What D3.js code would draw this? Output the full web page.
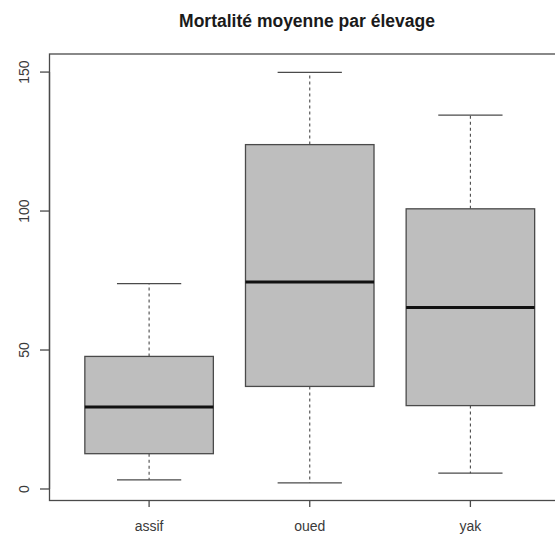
<!DOCTYPE html>
<html><head><meta charset="utf-8">
<script src="https://cdn.jsdelivr.net/npm/d3@7"></script>
<style>body{margin:0;background:#fff}svg{display:block}</style>
</head><body>
<script>
const categories = ["assif", "oued", "yak"];
const lowerWhisker = [3.3, 2.2, 5.7];
const q1 = [12.7, 36.9, 30.0];
const median = [29.5, 74.5, 65.3];
const q3 = [47.7, 123.9, 100.8];
const upperWhisker = [73.9, 149.9, 134.5];
const yTicks = [0, 50, 100, 150];
const title = "Mortalité moyenne par élevage";

const W = 555, H = 535;
const svg = d3.select("body").append("svg").attr("width", W).attr("height", H);

const x = d3.scaleLinear().domain([0.38, 3.62]).range([49.5, 570]);
const y = d3.scaleLinear().domain([-4.14, 156.5]).range([500.5, 54]);

const data = categories.map((c, i) => ({c, i: i + 1, lo: lowerWhisker[i], q1: q1[i], med: median[i], q3: q3[i], hi: upperWhisker[i]}));

const lineCol = "#4a4a4a";
const font = "Liberation Sans, Arial, sans-serif";
const g = svg.append("g");

data.forEach(d => {
  const cx = x(d.i), bw = x(d.i + 0.4) - x(d.i), cw = bw / 2;
  g.append("line").attr("x1", cx).attr("x2", cx).attr("y1", y(d.q3)).attr("y2", y(d.hi))
    .attr("stroke", lineCol).attr("stroke-width", 1.1).attr("stroke-dasharray", "3,3");
  g.append("line").attr("x1", cx).attr("x2", cx).attr("y1", y(d.q1)).attr("y2", y(d.lo))
    .attr("stroke", lineCol).attr("stroke-width", 1.1).attr("stroke-dasharray", "3,3");
  [d.hi, d.lo].forEach(v => g.append("line").attr("x1", cx - cw).attr("x2", cx + cw)
    .attr("y1", y(v)).attr("y2", y(v)).attr("stroke", lineCol).attr("stroke-width", 1.3));
  g.append("rect").attr("x", cx - bw).attr("width", 2 * bw).attr("y", y(d.q3)).attr("height", y(d.q1) - y(d.q3))
    .attr("fill", "#bebebe").attr("stroke", lineCol).attr("stroke-width", 1.3);
  g.append("line").attr("x1", cx - bw).attr("x2", cx + bw).attr("y1", y(d.med)).attr("y2", y(d.med))
    .attr("stroke", "#111").attr("stroke-width", 3);
});

svg.append("rect").attr("x", 49.5).attr("y", 54).attr("width", 570 - 49.5).attr("height", 500.5 - 54)
  .attr("fill", "none").attr("stroke", lineCol).attr("stroke-width", 1.3);

const ya = svg.append("g");
ya.append("line").attr("x1", 49.5).attr("x2", 49.5).attr("y1", y(0)).attr("y2", y(150)).attr("stroke", lineCol).attr("stroke-width", 1.3);
yTicks.forEach(t => {
  ya.append("line").attr("x1", 40).attr("x2", 49.5).attr("y1", y(t)).attr("y2", y(t)).attr("stroke", lineCol).attr("stroke-width", 1.3);
  ya.append("text").attr("transform", `translate(29,${y(t)}) rotate(-90)`).attr("text-anchor", "middle")
    .attr("font-family", font).attr("font-size", 14).attr("fill", "#3a3a3a").text(t);
});

categories.forEach((c, i) => {
  const cx = x(i + 1);
  svg.append("line").attr("x1", cx).attr("x2", cx).attr("y1", 500.5).attr("y2", 507).attr("stroke", lineCol).attr("stroke-width", 1.3);
  svg.append("text").attr("x", cx).attr("y", 531).attr("text-anchor", "middle")
    .attr("font-family", font).attr("font-size", 14).attr("fill", "#3a3a3a").text(c);
});

svg.append("text").attr("x", 307).attr("y", 27).attr("text-anchor", "middle")
  .attr("font-family", font).attr("font-weight", "bold").attr("font-size", 17.5)
  .attr("fill", "#1a1a1a").text(title);
</script>
</body></html>
